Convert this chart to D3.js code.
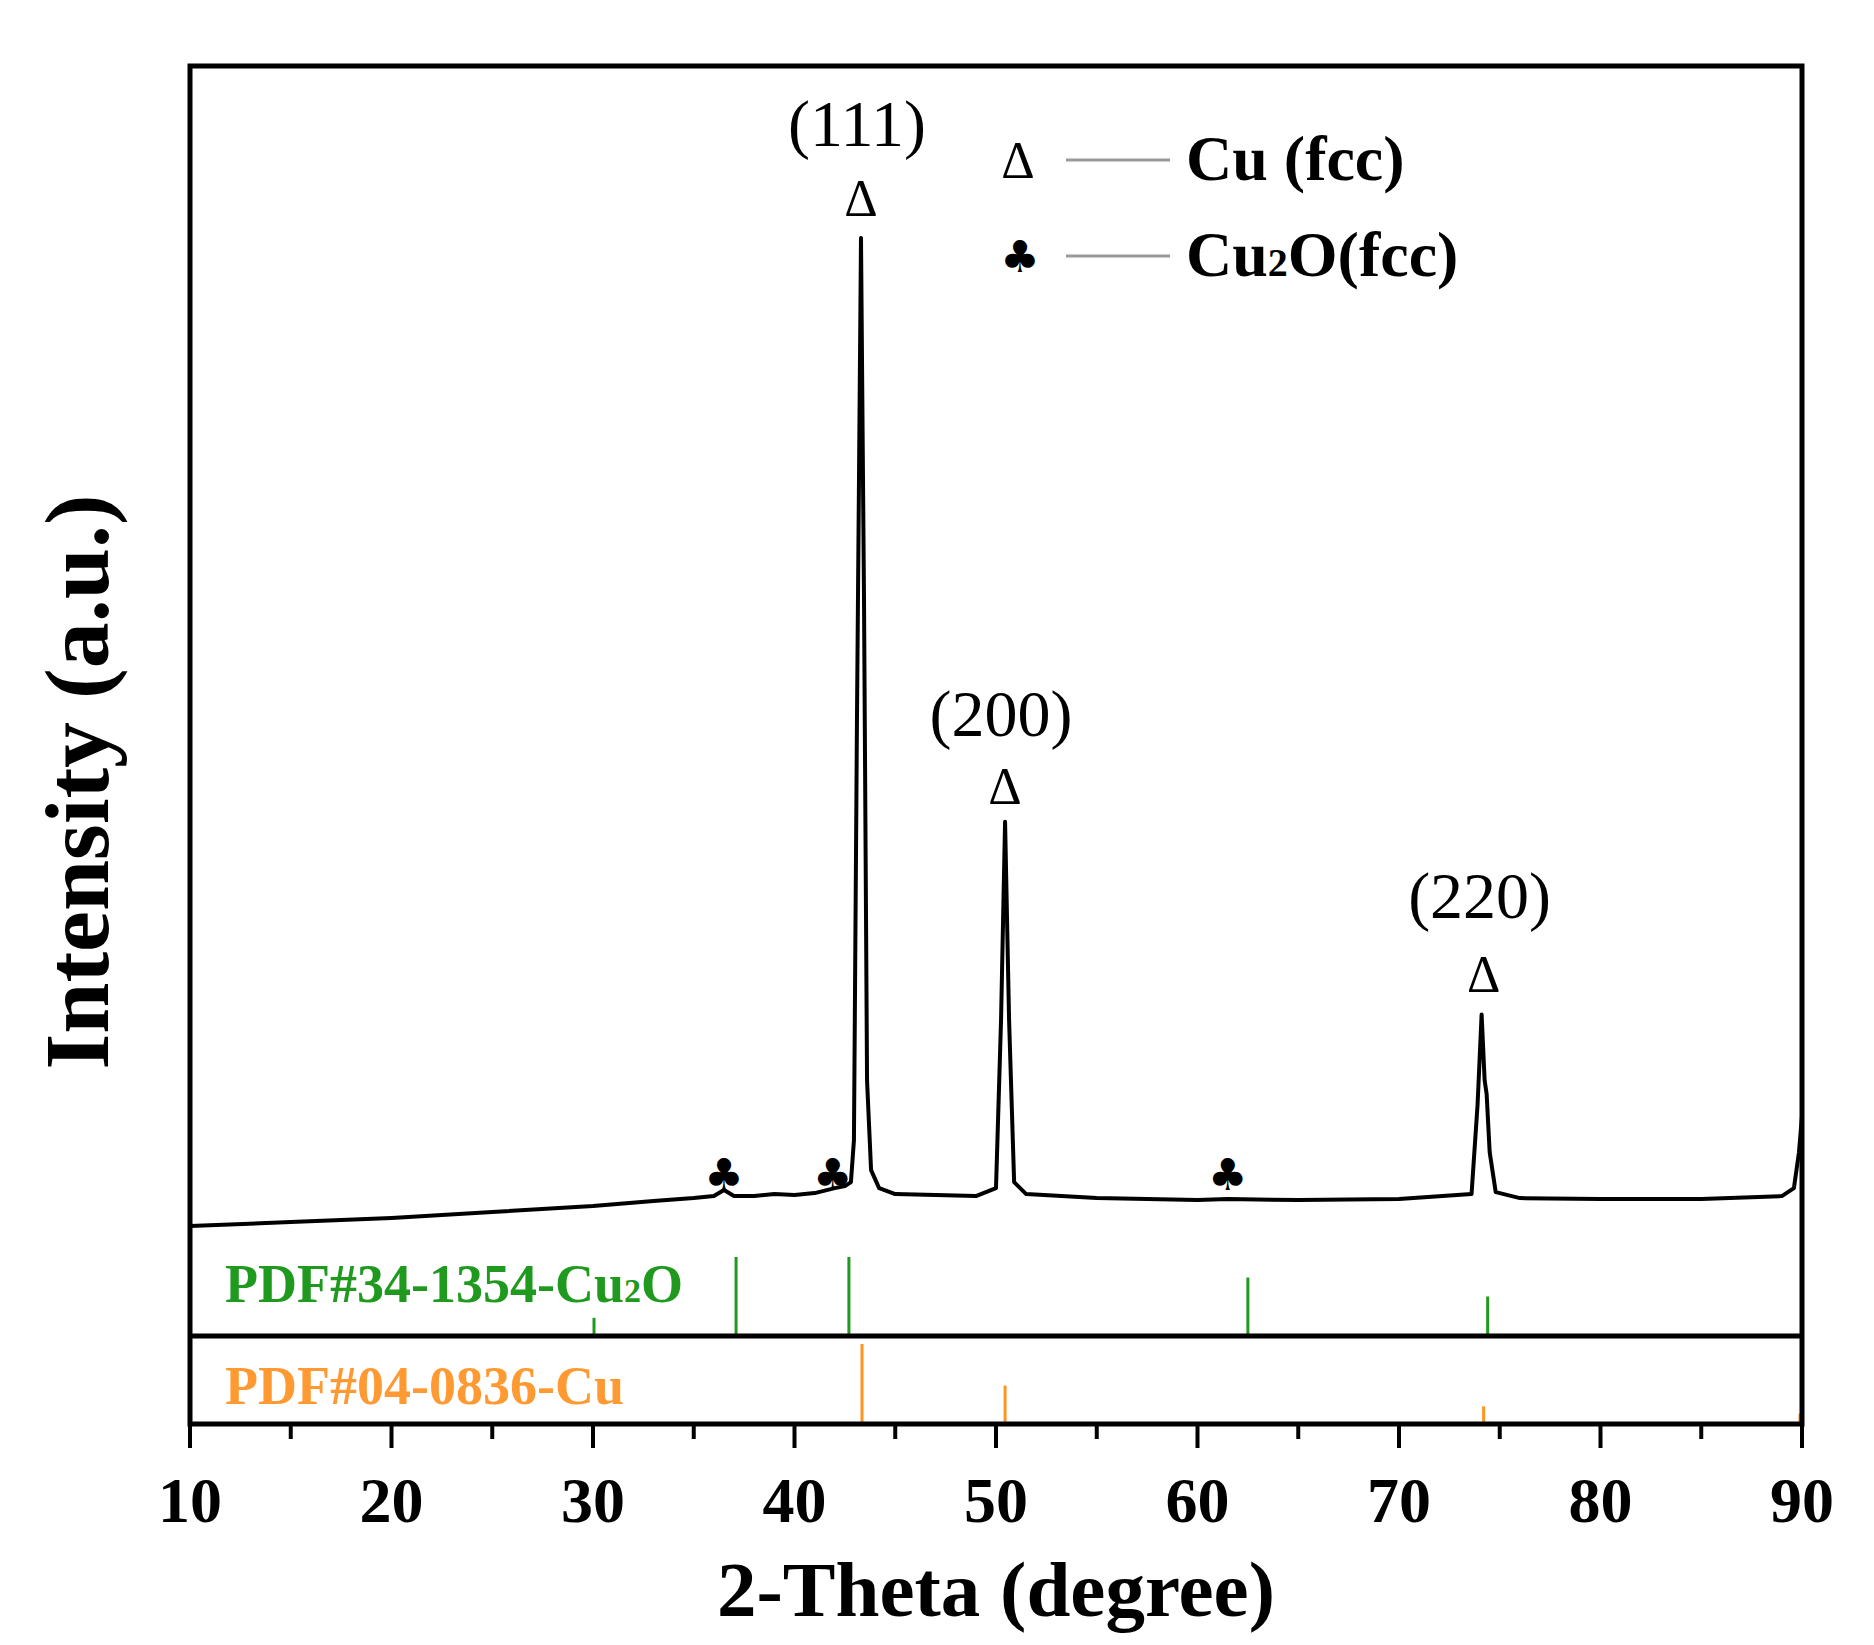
<!DOCTYPE html><html><head><meta charset="utf-8"><script src="https://cdn.jsdelivr.net/npm/d3@7"></script>
<style>body{margin:0;background:#fff}</style></head><body><svg id="c" width="1874" height="1645"></svg>
<script>
const xrdTheta=[10,15,20,25,30,33,35,36,36.5,37,38,39,40,41,42,42.5,42.8,42.95,43.1,43.3,43.45,43.6,43.8,44.2,45,47,49,50,50.25,50.45,50.65,50.9,51.5,55,60,61.5,65,70,73.6,73.9,74.1,74.25,74.35,74.5,74.8,76,80,85,89,89.6,89.85,90];
const xrdIntensity=[10,14,18,24,30,35,38,40,46,40,40,42,41,43,48,50,54,96,517,1000,637,156,66,48,42,41,40,48,216,415,216,54,42,38,36,37,36,37,42,132,222,156,142,84,44,38,37,37,40,48,84,120];
const cu2oTheta=[30.05,37.1,42.7,62.5,74.4], cu2oRel=[23,100,100,74,50];
const cuTheta=[43.35,50.45,74.2,89.9], cuRel=[100,48,22,13];
const xTicks=[10,20,30,40,50,60,70,80,90];
const peakLabels=[{t:43.3,hkl:"(111)",ly:146,dy:198},{t:50.45,hkl:"(200)",ly:736,dy:786},{t:74.2,hkl:"(220)",ly:918,dy:974}];
const clubs=[36.5,41.9,61.5];
const svg=d3.select("#c");
const L=190,R=1802,T=66,S=1336,B=1424;
const x=d3.scaleLinear().domain([10,90]).range([L,R]);
const y=d3.scaleLinear().domain([0,1000]).range([1236,238]);
const yg=d3.scaleLinear().domain([0,100]).range([S,S-79]);
const yo=d3.scaleLinear().domain([0,100]).range([B,B-80]);
const serif="'Liberation Serif','Times New Roman',serif";
svg.append("path").datum(d3.zip(xrdTheta,xrdIntensity)).attr("fill","none").attr("stroke","#000").attr("stroke-width",4).attr("stroke-linejoin","round")
 .attr("d",d3.line().x(d=>x(d[0])).y(d=>y(d[1])));
svg.selectAll(".g").data(d3.zip(cu2oTheta,cu2oRel)).join("line").attr("x1",d=>x(d[0])).attr("x2",d=>x(d[0])).attr("y1",yg(0)).attr("y2",d=>yg(d[1])).attr("stroke","#1f9a1f").attr("stroke-width",3);
svg.selectAll(".o").data(d3.zip(cuTheta,cuRel)).join("line").attr("x1",d=>x(d[0])).attr("x2",d=>x(d[0])).attr("y1",yo(0)).attr("y2",d=>yo(d[1])).attr("stroke","#ff9420").attr("stroke-width",3);
svg.append("rect").attr("x",L).attr("y",T).attr("width",R-L).attr("height",B-T).attr("fill","none").attr("stroke","#000").attr("stroke-width",5);
svg.append("line").attr("x1",L).attr("x2",R).attr("y1",S).attr("y2",S).attr("stroke","#000").attr("stroke-width",5);
const ax=svg.append("g").attr("transform",`translate(0,${B})`).call(d3.axisBottom(x).tickValues(d3.range(10,91,5)).tickSize(0).tickFormat(""));
ax.select(".domain").remove();
svg.selectAll(".tk").data(d3.range(10,91,5)).join("line").attr("x1",d=>x(d)).attr("x2",d=>x(d)).attr("y1",B).attr("y2",d=>B+(d%10===0?24:15)).attr("stroke","#000").attr("stroke-width",4);
svg.selectAll(".tl").data(xTicks).join("text").attr("x",d=>x(d)).attr("y",1522).attr("text-anchor","middle").attr("font-family",serif).attr("font-weight","bold").attr("font-size",64).text(d=>d);
svg.append("text").attr("x",(L+R)/2).attr("y",1616).attr("text-anchor","middle").attr("font-family",serif).attr("font-weight","bold").attr("font-size",79).text("2-Theta (degree)");
svg.append("text").attr("transform","translate(108,782) rotate(-90)").attr("text-anchor","middle").attr("font-family",serif).attr("font-weight","bold").attr("font-size",92).text("Intensity (a.u.)");
peakLabels.forEach(p=>{
 svg.append("text").attr("x",x(p.t)-4).attr("y",p.ly).attr("text-anchor","middle").attr("font-family",serif).attr("font-size",66).text(p.hkl);
 svg.append("text").attr("x",x(p.t)).attr("y",p.dy+18).attr("text-anchor","middle").attr("font-family",serif).attr("font-size",52).text("Δ");
});
clubs.forEach(c=>svg.append("text").attr("x",x(c)).attr("y",1190).attr("text-anchor","middle").attr("font-family","DejaVu Sans").attr("font-size",44).text("♣"));
svg.append("text").attr("x",1018).attr("y",178).attr("text-anchor","middle").attr("font-family",serif).attr("font-size",52).text("Δ");
svg.append("text").attr("x",1020).attr("y",272).attr("text-anchor","middle").attr("font-family","DejaVu Sans").attr("font-size",44).text("♣");
[160,256].forEach(yy=>svg.append("line").attr("x1",1066).attr("x2",1170).attr("y1",yy).attr("y2",yy).attr("stroke","#999").attr("stroke-width",3));
svg.append("text").attr("x",1186).attr("y",180).attr("font-family",serif).attr("font-weight","bold").attr("font-size",64).text("Cu (fcc)");
svg.append("text").attr("x",1186).attr("y",276).attr("font-family",serif).attr("font-weight","bold").attr("font-size",64).html('Cu<tspan font-size="40">2</tspan>O(fcc)');
svg.append("text").attr("x",225).attr("y",1302).attr("fill","#1f9a1f").attr("font-family",serif).attr("font-weight","bold").attr("font-size",54).html('PDF#34-1354-Cu<tspan font-size="34">2</tspan>O');
svg.append("text").attr("x",225).attr("y",1404).attr("fill","#ff9a33").attr("font-family",serif).attr("font-weight","bold").attr("font-size",54).text("PDF#04-0836-Cu");
</script></body></html>
